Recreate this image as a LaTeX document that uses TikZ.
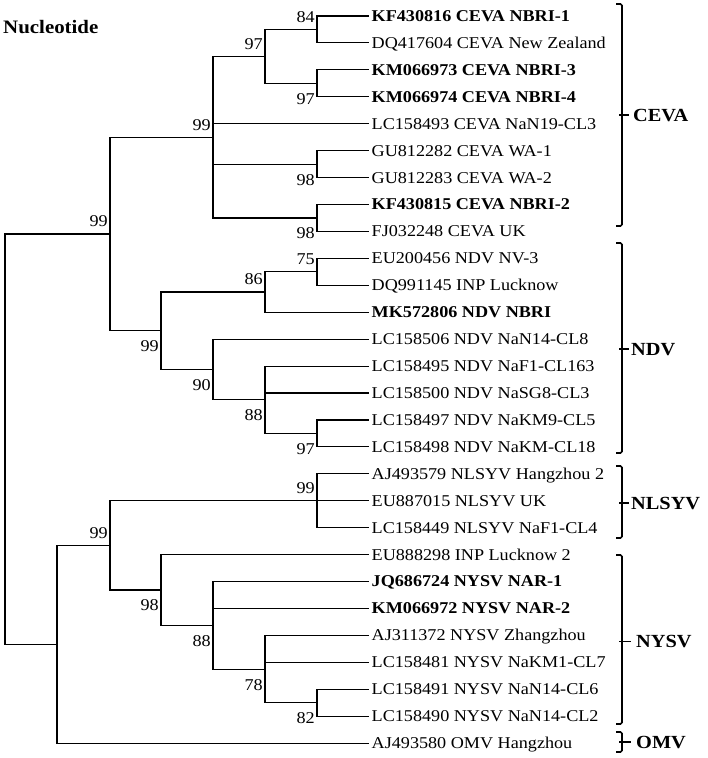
\documentclass[tikz,border=0pt]{standalone}
\usepackage{fontspec}
\setmainfont{Liberation Serif}[FakeStretch=1.1]
\usetikzlibrary{calc}
\begin{document}
\begin{tikzpicture}[x=1pt,y=-1pt,
  edge/.style={line width=1.1pt,line cap=rect,line join=miter},
  grp/.style={line width=1.6pt,rounded corners=1.5pt},
  leaf/.style={anchor=west,inner xsep=3.5pt,inner ysep=0pt,text height=10.8pt,text depth=0pt,font=\fontsize{16.5}{18}\selectfont},
  bs/.style={anchor=east,inner sep=0pt,text height=10.8pt,text depth=0pt,font=\fontsize{16.5}{18}\selectfont},
  glab/.style={anchor=west,inner sep=0pt,text height=12.2pt,text depth=0pt,font=\fontsize{18.5}{20}\selectfont\bfseries},
  ttl/.style={anchor=west,inner sep=0pt,text height=13pt,text depth=0pt,font=\fontsize{19}{21}\selectfont\bfseries}]
\useasboundingbox (0,0) rectangle (708,758);
\fill[white] (0,0) rectangle (708,758);

\node[ttl] (title) at (3,26.7) {Nucleotide};

% leaves
\node[leaf] (l1)  at (368,16.0)  {\textbf{KF430816 CEVA NBRI-1}};
\node[leaf] (l2)  at (368,42.9)  {DQ417604 CEVA New Zealand};
\node[leaf] (l3)  at (368,69.9)  {\textbf{KM066973 CEVA NBRI-3}};
\node[leaf] (l4)  at (368,96.8)  {\textbf{KM066974 CEVA NBRI-4}};
\node[leaf] (l5)  at (368,123.7) {LC158493 CEVA NaN19-CL3};
\node[leaf] (l6)  at (368,150.7) {GU812282 CEVA WA-1};
\node[leaf] (l7)  at (368,177.6) {GU812283 CEVA WA-2};
\node[leaf] (l8)  at (368,204.5) {\textbf{KF430815 CEVA NBRI-2}};
\node[leaf] (l9)  at (368,231.4) {FJ032248 CEVA UK};
\node[leaf] (l10) at (368,258.4) {EU200456 NDV NV-3};
\node[leaf] (l11) at (368,285.3) {DQ991145 INP Lucknow};
\node[leaf] (l12) at (368,312.2) {\textbf{MK572806 NDV NBRI}};
\node[leaf] (l13) at (368,339.2) {LC158506 NDV NaN14-CL8};
\node[leaf] (l14) at (368,366.1) {LC158495 NDV NaF1-CL163};
\node[leaf] (l15) at (368,393.0) {LC158500 NDV NaSG8-CL3};
\node[leaf] (l16) at (368,420.0) {LC158497 NDV NaKM9-CL5};
\node[leaf] (l17) at (368,446.9) {LC158498 NDV NaKM-CL18};
\node[leaf] (l18) at (368,473.8) {AJ493579 NLSYV Hangzhou 2};
\node[leaf] (l19) at (368,500.75){EU887015 NLSYV UK};
\node[leaf] (l20) at (368,527.7) {LC158449 NLSYV NaF1-CL4};
\node[leaf] (l21) at (368,554.6) {EU888298 INP Lucknow 2};
\node[leaf] (l22) at (368,581.5) {\textbf{JQ686724 NYSV NAR-1}};
\node[leaf] (l23) at (368,608.5) {\textbf{KM066972 NYSV NAR-2}};
\node[leaf] (l24) at (368,635.4) {AJ311372 NYSV Zhangzhou};
\node[leaf] (l25) at (368,662.3) {LC158481 NYSV NaKM1-CL7};
\node[leaf] (l26) at (368,689.3) {LC158491 NYSV NaN14-CL6};
\node[leaf] (l27) at (368,716.2) {LC158490 NYSV NaN14-CL2};
\node[leaf] (l28) at (368,743.1) {AJ493580 OMV Hangzhou};

% internal nodes
\coordinate (R)    at (5,439.1);
\coordinate (A)    at (110,234);
\coordinate (C)    at (213,137.2);
\coordinate (C1)   at (265,56.4);
\coordinate (C11)  at (317,29.45);
\coordinate (C12)  at (317,83.35);
\coordinate (C2)   at (317,164.15);
\coordinate (C3)   at (317,217.95);
\coordinate (D)    at (161,330.75);
\coordinate (D1)   at (265,292);
\coordinate (D11)  at (317,271.85);
\coordinate (D2)   at (213,369.5);
\coordinate (D21)  at (265,399.8);
\coordinate (D211) at (317,433.45);
\coordinate (B)    at (57,644.25);
\coordinate (E)    at (110,545.4);
\coordinate (F)    at (317,500.75);
\coordinate (G)    at (161,590);
\coordinate (H)    at (213,625.3);
\coordinate (I)    at (265,669.1);
\coordinate (J)    at (317,702.75);

% edges
\draw[edge] (R) |- (A);   \draw[edge] (R) |- (B);
\draw[edge] (A) |- (C);   \draw[edge] (A) |- (D);
\draw[edge] (C) |- (C1);  \draw[edge] (C) |- (l5.west);
\draw[edge] (C) |- (C2);  \draw[edge] (C) |- (C3);
\draw[edge] (C1) |- (C11); \draw[edge] (C1) |- (C12);
\draw[edge] (C11) |- (l1.west); \draw[edge] (C11) |- (l2.west);
\draw[edge] (C12) |- (l3.west); \draw[edge] (C12) |- (l4.west);
\draw[edge] (C2) |- (l6.west);  \draw[edge] (C2) |- (l7.west);
\draw[edge] (C3) |- (l8.west);  \draw[edge] (C3) |- (l9.west);
\draw[edge] (D) |- (D1);   \draw[edge] (D) |- (D2);
\draw[edge] (D1) |- (D11); \draw[edge] (D1) |- (l12.west);
\draw[edge] (D11) |- (l10.west); \draw[edge] (D11) |- (l11.west);
\draw[edge] (D2) |- (l13.west);  \draw[edge] (D2) |- (D21);
\draw[edge] (D21) |- (l14.west); \draw[edge] (D21) |- (l15.west); \draw[edge] (D21) |- (D211);
\draw[edge] (D211) |- (l16.west); \draw[edge] (D211) |- (l17.west);
\draw[edge] (B) |- (E);    \draw[edge] (B) |- (l28.west);
\draw[edge] (E) |- (F);    \draw[edge] (E) |- (G);
\draw[edge] (F) |- (l18.west); \draw[edge] (F) -- (l19.west); \draw[edge] (F) |- (l20.west);
\draw[edge] (G) |- (l21.west); \draw[edge] (G) |- (H);
\draw[edge] (H) |- (l22.west); \draw[edge] (H) |- (l23.west); \draw[edge] (H) |- (I);
\draw[edge] (I) |- (l24.west); \draw[edge] (I) |- (l25.west); \draw[edge] (I) |- (J);
\draw[edge] (J) |- (l26.west); \draw[edge] (J) |- (l27.west);

% bootstrap values (above: -12.5, below: +15.5)
\node[bs] (bC11) at ($(C11)+(-2,-12.5)$) {84};
\node[bs] (bC1)  at ($(C1)+(-2,-12.5)$)  {97};
\node[bs] (bC12) at ($(C12)+(-2,15.5)$)  {97};
\node[bs] (bC)   at ($(C)+(-2,-12.5)$)   {99};
\node[bs] (bC2)  at ($(C2)+(-2,15.5)$)   {98};
\node[bs] (bC3)  at ($(C3)+(-2,15.5)$)   {98};
\node[bs] (bA)   at ($(A)+(-2,-12.5)$)   {99};
\node[bs] (bD11) at ($(D11)+(-2,-12.5)$) {75};
\node[bs] (bD1)  at ($(D1)+(-2,-12.5)$)  {86};
\node[bs] (bD)   at ($(D)+(-2,15.5)$)    {99};
\node[bs] (bD2)  at ($(D2)+(-2,15.5)$)   {90};
\node[bs] (bD21) at ($(D21)+(-2,15.5)$)  {88};
\node[bs] (bD211) at ($(D211)+(-2,15.5)$) {97};
\node[bs] (bF)   at ($(F)+(-2,-12.5)$)   {99};
\node[bs] (bE)   at ($(E)+(-2,-12.5)$)   {99};
\node[bs] (bG)   at ($(G)+(-2,15.5)$)    {98};
\node[bs] (bH)   at ($(H)+(-2,15.5)$)    {88};
\node[bs] (bI)   at ($(I)+(-2,15.5)$)    {78};
\node[bs] (bJ)   at ($(J)+(-2,15.5)$)    {82};

% group brackets
\draw[grp] (616,4) -- (622,4) -- (622,226) -- (616,226);
\draw[grp] (619,115) -- (629,115);
\node[glab] (gCEVA) at (633,115) {CEVA};

\draw[grp] (616,243) -- (622,243) -- (622,453) -- (616,453);
\draw[grp] (619,349) -- (629,349);
\node[glab] (gNDV) at (631,349) {NDV};

\draw[grp] (616,466) -- (622,466) -- (622,538) -- (616,538);
\draw[grp] (619,503) -- (629,503);
\node[glab] (gNLSYV) at (631,503) {NLSYV};

\draw[grp] (616,555) -- (622,555) -- (622,724) -- (616,724);
\draw[grp] (619,641.5) -- (631,641.5);
\node[glab] (gNYSV) at (636,641.5) {NYSV};

\draw[grp] (616,732) -- (622,732) -- (622,752) -- (616,752);
\draw[grp] (619,742) -- (631,742);
\node[glab] (gOMV) at (636,742) {OMV};
\end{tikzpicture}
\end{document}
